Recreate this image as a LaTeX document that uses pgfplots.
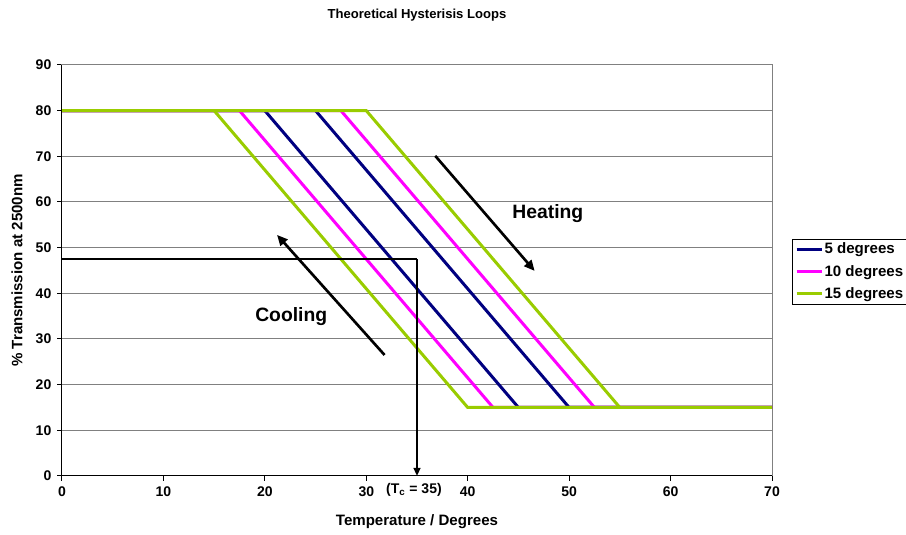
\documentclass[border=0pt]{standalone}
\usepackage{fontspec}
\setmainfont{Liberation Sans}
\usepackage{pgfplots}
\pgfplotsset{compat=1.18}
\usetikzlibrary{arrows.meta}
\definecolor{navyc}{RGB}{0,0,128}
\definecolor{magc}{RGB}{255,0,255}
\definecolor{limec}{RGB}{153,204,0}
\newcommand\tickf{\fontsize{10.5}{12}\selectfont\bfseries}
\newcommand\labf{\fontsize{11.3}{13}\selectfont\bfseries}
\begin{document}
\begin{tikzpicture}
\begin{axis}[
  scale only axis, width=532.5pt, height=308.25pt,
  xmin=0, xmax=70, ymin=0, ymax=90,
  xtick={0,10,...,70}, ytick={0,10,...,90},
  ymajorgrids, grid style={gray, line width=0.75pt},
  axis line style={gray, line width=0.75pt},
  tick align=outside, tick pos=left, major tick length=3.5pt,
  tick style={black, line width=0.75pt},
  ticklabel style={font=\tickf},
  /pgf/number format/assume math mode=true,
  xticklabel style={yshift=-1pt},
  yticklabel style={xshift=-1pt},
  xlabel={Temperature / Degrees},
  ylabel={\% Transmission at 2500nm},
  xlabel style={font=\labf, at={(axis description cs:0.5,-0.112)}, anchor=center},
  ylabel style={font=\labf, at={(axis description cs:-0.0634,0.5)}, anchor=center},
  every axis title shift=0pt,
  title={Theoretical Hysterisis Loops},
  title style={font=\fontsize{9.8}{12}\selectfont\bfseries, at={(axis description cs:0.5,1.1217)}, anchor=center, yshift=0pt},
  legend style={at={(axis description cs:1,0.497)}, anchor=west, xshift=15pt,
    draw=black, line width=0.75pt, font=\labf, row sep=4pt, inner xsep=2pt, inner ysep=1.5pt,
    nodes={inner xsep=1pt, inner ysep=1.5pt}},
  legend cell align=left,
  legend image code/.code={\draw[#1, line width=2.25pt] (0pt,0pt) -- (18.75pt,0pt);},
  clip=false,
]
\coordinate (O) at (rel axis cs:0,0);
% 5 degrees
\addplot[navyc, line width=2.25pt] coordinates {(0,80) (25,80) (50,15) (70,15)};
\addlegendentry{5 degrees}
\addplot[navyc, line width=2.25pt, forget plot] coordinates {(0,80) (20,80) (45,15) (70,15)};
% 10 degrees
\addplot[magc, line width=2.25pt] coordinates {(0,80) (27.5,80) (52.5,15) (70,15)};
\addlegendentry{10 degrees}
\addplot[magc, line width=2.25pt, forget plot] coordinates {(0,80) (17.5,80) (42.5,15) (70,15)};
% 15 degrees
\addplot[limec, line width=2.25pt] coordinates {(0,80) (30,80) (55,15) (70,15)};
\addlegendentry{15 degrees}
\addplot[limec, line width=2.25pt, forget plot] coordinates {(0,80) (15,80) (40,15) (70,15)};
% Tc marker
\addplot[black, line width=1.5pt, forget plot] coordinates {(0,47.5) (35,47.5)};
\draw[black, line width=1.5pt, -{Triangle[length=6pt,width=5pt]}] (axis cs:35,47.5) -- (axis cs:35,0);
\draw[black, line width=2pt, -{Triangle[length=8pt,width=7pt]}] (axis cs:36.8,70.1) -- (axis cs:46.6,44.9);
\draw[black, line width=2pt, -{Triangle[length=8pt,width=7pt]}] (axis cs:31.8,26.5) -- (axis cs:21.2,52.8);
\node[font=\fontsize{14.5}{16}\selectfont\bfseries] at (axis cs:47.9,57.4) {Heating};
\node[font=\fontsize{14.5}{16}\selectfont\bfseries] at (axis cs:22.6,35.0) {Cooling};
\node[font=\tickf, yshift=-10.5pt] at (axis cs:34.7,0) {(T\textsubscript{c} = 35)};
\draw[black, line width=0.75pt] (rel axis cs:0,1) -- (rel axis cs:0,0) -- (rel axis cs:1,0);
\end{axis}
\pgfresetboundingbox
\path (O) ++(-46.5pt,-44.25pt) rectangle ++(679.5pt,401.25pt);
\end{tikzpicture}
\end{document}
